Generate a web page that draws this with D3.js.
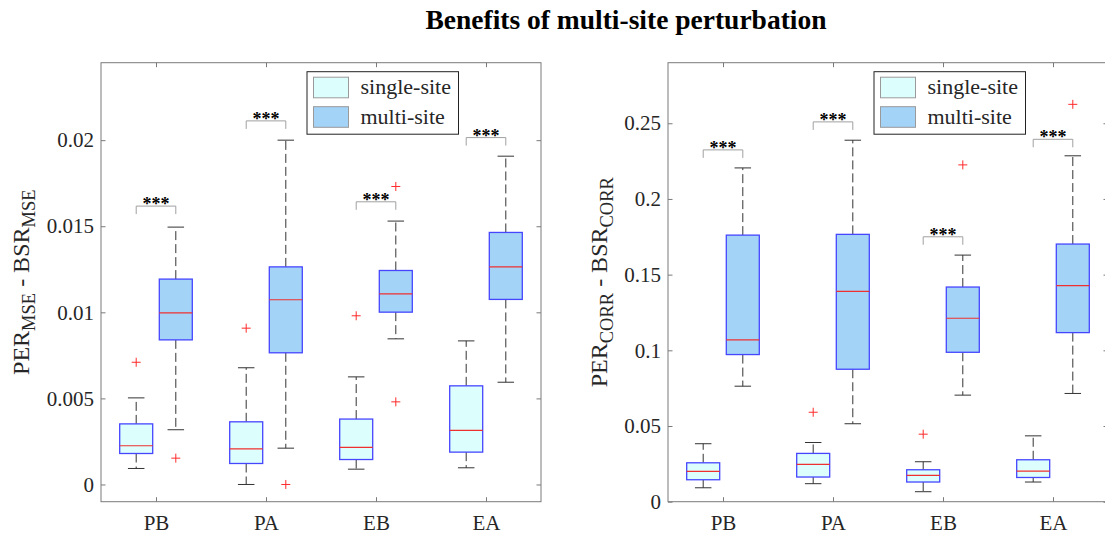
<!DOCTYPE html>
<html>
<head>
<meta charset="utf-8">
<script src="https://cdn.jsdelivr.net/npm/d3@7"></script>
<style>
  html, body { margin: 0; padding: 0; background: #fff; }
  svg { display: block; }
</style>
</head>
<body>
<svg id="fig" width="1105" height="534"></svg>
<script>
// ---- data ---------------------------------------------------------------
const categories = ["PB", "PA", "EB", "EA"];
const seriesNames = ["single-site", "multi-site"];
const figureTitle = "Benefits of multi-site perturbation";
const significance = "***";

// five-number summaries: [lower whisker, q1, median, q3, upper whisker]
const mseSingle = [
  [0.00093, 0.00180, 0.00225, 0.00352, 0.00503],
  [0.00000, 0.00122, 0.00207, 0.00364, 0.00678],
  [0.00089, 0.00145, 0.00215, 0.00380, 0.00625],
  [0.00097, 0.00188, 0.00314, 0.00573, 0.00834]
];
const mseMulti = [
  [0.00318, 0.00840, 0.00997, 0.01193, 0.01495],
  [0.00211, 0.00765, 0.01073, 0.01264, 0.02000],
  [0.00846, 0.01001, 0.01107, 0.01243, 0.01530],
  [0.00594, 0.01075, 0.01264, 0.01464, 0.01907]
];
const mseSingleOutliers = [[0.0071], [0.00908], [0.0098], []];
const mseMultiOutliers = [[0.00153], [0.0], [0.01731, 0.0048], []];
const mseBracket = [0.01617, 0.02112, 0.01642, 0.02015];
const mseTicks = [0, 0.005, 0.01, 0.015, 0.02];
const mseTickLabels = ["0", "0.005", "0.01", "0.015", "0.02"];

const corrSingle = [
  [0.0092, 0.0145, 0.0200, 0.0257, 0.0383],
  [0.0119, 0.0163, 0.0246, 0.0319, 0.0391],
  [0.0066, 0.0130, 0.0174, 0.0211, 0.0264],
  [0.0130, 0.0160, 0.0202, 0.0277, 0.0435]
];
const corrMulti = [
  [0.0763, 0.0972, 0.1069, 0.1761, 0.2205],
  [0.0515, 0.0875, 0.1390, 0.1766, 0.2388],
  [0.0704, 0.0987, 0.1212, 0.1418, 0.1629],
  [0.0715, 0.1117, 0.1427, 0.1702, 0.2285]
];
const corrSingleOutliers = [[], [0.0591], [0.0446], []];
const corrMultiOutliers = [[], [], [0.2225], [0.2625]];
const corrBracket = [0.2324, 0.2509, 0.1750, 0.2394];
const corrTicks = [0, 0.05, 0.1, 0.15, 0.2, 0.25];
const corrTickLabels = ["0", "0.05", "0.1", "0.15", "0.2", "0.25"];

// ---- styling --------------------------------------------------------------
const FONT = "'Liberation Serif', 'Times New Roman', serif";
const fills = ["#dcfffd", "#a3d3f7"];
const boxEdge = "#4646ff";
const medianColor = "#f03030";
const whiskerColor = "#333333";
const outlierColor = "#ff2a2a";
const axisColor = "#7a7a7a";

const svg = d3.select("#fig");
svg.append("rect").attr("width", 1105).attr("height", 534).attr("fill", "#fff");

svg.append("text")
  .attr("x", 626).attr("y", 28.5)
  .attr("text-anchor", "middle")
  .attr("font-family", FONT).attr("font-weight", "bold").attr("font-size", 27.5)
  .attr("fill", "#000")
  .text(figureTitle);

function drawPanel(p) {
  const x = d3.scaleLinear().domain([0.5, categories.length + 0.5]).range([p.left, p.right]);
  const y = d3.scaleLinear().domain(p.yDomain).range([p.bottom, p.top]);
  const g = svg.append("g");
  const tick = 4.5;

  // axes with inward ticks on all four sides
  const axL = g.append("g").attr("transform", `translate(${p.left},0)`)
    .call(d3.axisLeft(y).tickValues(p.ticks).tickSize(-tick).tickPadding(7)
      .tickFormat((d, i) => p.tickLabels[i]));
  const axR = g.append("g").attr("transform", `translate(${p.right},0)`)
    .call(d3.axisRight(y).tickValues(p.ticks).tickSize(-tick).tickFormat(""));
  const axB = g.append("g").attr("transform", `translate(0,${p.bottom})`)
    .call(d3.axisBottom(x).tickValues(d3.range(1, categories.length + 1)).tickSize(-tick).tickPadding(13)
      .tickFormat((d, i) => categories[i]));
  const axT = g.append("g").attr("transform", `translate(0,${p.top})`)
    .call(d3.axisTop(x).tickValues(d3.range(1, categories.length + 1)).tickSize(-tick).tickFormat(""));
  [axL, axR, axB, axT].forEach(a => {
    a.select(".domain").remove();
    a.selectAll("line").attr("stroke", axisColor);
    a.selectAll("text").attr("font-family", FONT).attr("font-size", 21).attr("fill", "#262626");
  });
  axB.selectAll("text").attr("dy", "0.71em");

  g.append("rect")
    .attr("x", p.left).attr("y", p.top)
    .attr("width", p.right - p.left).attr("height", p.bottom - p.top)
    .attr("fill", "none").attr("stroke", axisColor).attr("stroke-width", 1);

  // y label with subscripts
  const lab = g.append("text")
    .attr("transform", `translate(${p.labelX},${(p.top + p.bottom) / 2}) rotate(-90)`)
    .attr("text-anchor", "middle")
    .attr("font-family", FONT).attr("font-size", 24).attr("fill", "#262626");
  let shifted = false;
  p.label.forEach(([txt, sub]) => {
    const t = lab.append("tspan").text(txt);
    if (sub) { t.attr("font-size", 18.5); if (!shifted) { t.attr("dy", 6); shifted = true; } }
    else if (shifted) { t.attr("dy", -6); shifted = false; }
  });

  const offset = 0.18, halfBox = 0.15, halfCap = 0.075;
  const series = [p.single, p.multi];
  const outliers = [p.singleOut, p.multiOut];

  series.forEach((stats, s) => {
    const dx = s === 0 ? -offset : offset;
    stats.forEach((st, i) => {
      const c = i + 1 + dx;
      const [lo, q1, med, q3, hi] = st;
      const bg = g.append("g");
      // whiskers
      [[q3, hi], [q1, lo]].forEach(([a, b]) => {
        bg.append("line")
          .attr("x1", x(c)).attr("x2", x(c)).attr("y1", y(a)).attr("y2", y(b))
          .attr("stroke", whiskerColor).attr("stroke-width", 1)
          .attr("stroke-dasharray", "9,4");
        bg.append("line")
          .attr("x1", x(c - halfCap)).attr("x2", x(c + halfCap)).attr("y1", y(b)).attr("y2", y(b))
          .attr("stroke", whiskerColor).attr("stroke-width", 1);
      });
      bg.append("rect")
        .attr("x", x(c - halfBox)).attr("width", x(c + halfBox) - x(c - halfBox))
        .attr("y", y(q3)).attr("height", y(q1) - y(q3))
        .attr("fill", fills[s]).attr("stroke", boxEdge).attr("stroke-width", 1.3);
      bg.append("line")
        .attr("x1", x(c - halfBox)).attr("x2", x(c + halfBox)).attr("y1", y(med)).attr("y2", y(med))
        .attr("stroke", medianColor).attr("stroke-width", 1.2);
      outliers[s][i].forEach(v => {
        const px = x(c), py = y(v), r = 4.5;
        bg.append("path")
          .attr("d", `M${px - r},${py}H${px + r}M${px},${py - r}V${py + r}`)
          .attr("stroke", outlierColor).attr("stroke-width", 1).attr("fill", "none");
      });
    });
  });

  // significance brackets
  p.bracket.forEach((v, i) => {
    const xa = x(i + 1 - offset), xb = x(i + 1 + offset), yy = y(v);
    g.append("path")
      .attr("d", `M${xa},${yy + 8}V${yy}H${xb}V${yy + 8}`)
      .attr("fill", "none").attr("stroke", "#a0a0a0").attr("stroke-width", 1);
    g.append("text")
      .attr("x", (xa + xb) / 2).attr("y", yy + 4)
      .attr("text-anchor", "middle")
      .attr("font-family", FONT).attr("font-weight", "bold").attr("font-size", 18)
      .attr("fill", "#000")
      .text(significance);
  });

  // legend
  const lg = g.append("g").attr("transform", `translate(${p.right - 234},${p.top + 9})`);
  lg.append("rect").attr("x", 0).attr("y", 0).attr("width", 151.5).attr("height", 62.5)
    .attr("fill", "#fff").attr("stroke", "#222").attr("stroke-width", 1);
  seriesNames.forEach((name, s) => {
    const cy = 15.8 + s * 29.5;
    lg.append("rect").attr("x", 6.5).attr("y", cy - 10.3).attr("width", 35).attr("height", 20.6)
      .attr("fill", fills[s]).attr("stroke", "#9a9a9a").attr("stroke-width", 1);
    lg.append("text").attr("x", 53.5).attr("y", cy + 7)
      .attr("font-family", FONT).attr("font-size", 22).attr("fill", "#262626")
      .text(name);
  });
}

drawPanel({
  left: 101, right: 541, top: 62.7, bottom: 501.7,
  yDomain: [-0.001, 0.0245], ticks: mseTicks, tickLabels: mseTickLabels,
  single: mseSingle, multi: mseMulti,
  singleOut: mseSingleOutliers, multiOut: mseMultiOutliers,
  bracket: mseBracket,
  labelX: 28.5,
  label: [["PER", false], ["MSE", true], [" - BSR", false], ["MSE", true]]
});

drawPanel({
  left: 668, right: 1108, top: 62.7, bottom: 501.7,
  yDomain: [0, 0.29], ticks: corrTicks, tickLabels: corrTickLabels,
  single: corrSingle, multi: corrMulti,
  singleOut: corrSingleOutliers, multiOut: corrMultiOutliers,
  bracket: corrBracket,
  labelX: 606.5,
  label: [["PER", false], ["CORR", true], [" - BSR", false], ["CORR", true]]
});
</script>
</body>
</html>
